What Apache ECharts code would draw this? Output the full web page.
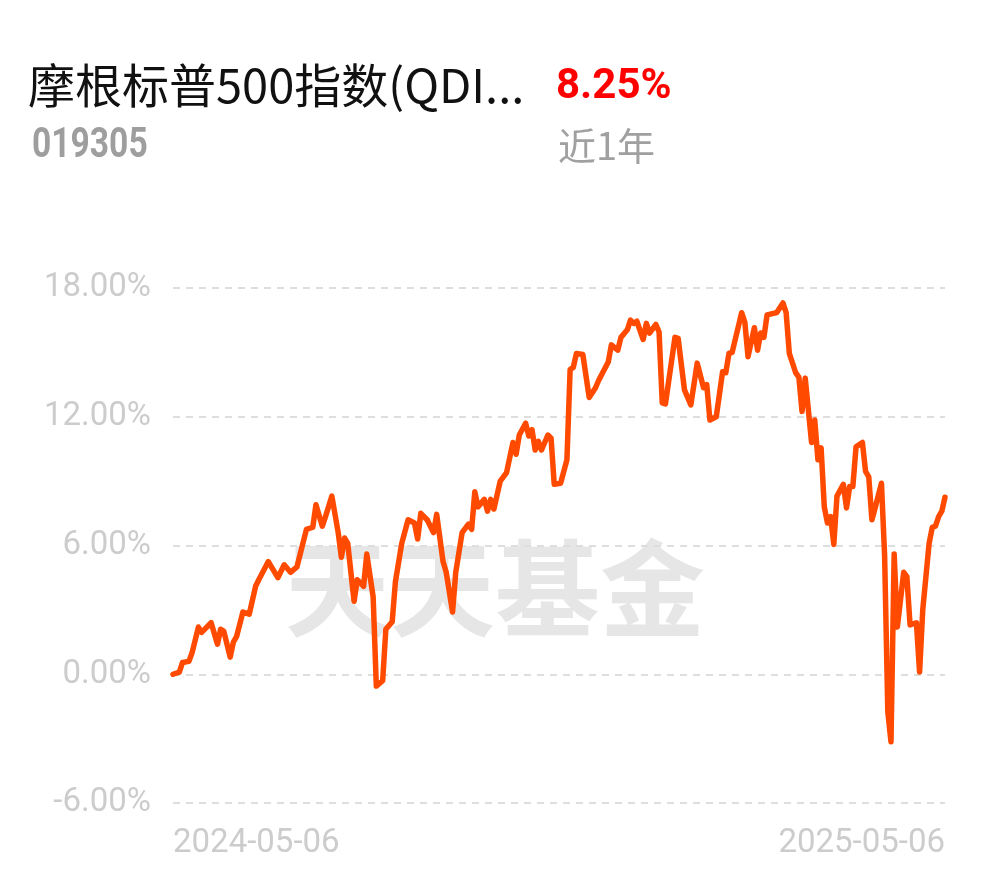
<!DOCTYPE html>
<html>
<head>
<meta charset="utf-8">
<script src="https://cdn.jsdelivr.net/npm/echarts@6/dist/echarts.min.js"></script>
<style>
html,body{margin:0;padding:0;background:#fff;}
#chart{width:990px;height:878px;}
</style>
</head>
<body>
<div id="chart"></div>
<script>
// Trading-day index since 2024-05-06 (approximate)
const days = [0,2,3,5,6,8,9,12,14,15,16,18,19,20,22,24,26,27,30,33,35,37,39,42,44,45,47,48,50,52,53,54,55,57,58,60,61,63,64,66,67,69,70,72,74,76,77,78,80,82,83,85,86,88,89,91,93,94,95,96,98,99,100,101,103,105,107,108,109,111,112,113,114,115,116,118,119,120,122,124,125,126,127,129,131,133,134,137,138,140,141,143,144,145,146,148,149,150,152,153,154,155,158,159,161,163,165,167,168,169,171,173,174,175,176,179,180,181,183,184,185,186,187,190,192,193,194,196,197,198,199,201,202,203,204,205,206,207,208,209,211,212,213,214,215,217,218,219,220,221,223,224,225,226,227,228,230,231,232,234,235,236,238,239,240,241,242,243];
// Cumulative return (%)
const returns = [0,0.1,0.55,0.6,1.0,2.2,1.95,2.4,1.4,2.1,2.0,0.8,1.5,1.75,2.9,2.8,4.1,4.4,5.25,4.5,5.1,4.75,5.0,6.75,6.85,7.9,6.9,7.35,8.3,6.6,5.45,6.35,6.1,3.4,4.4,4.1,5.6,3.6,-0.55,-0.3,2.1,2.45,4.3,6.1,7.2,7.05,6.3,7.5,7.2,6.6,7.45,5.25,4.75,2.9,4.75,6.6,7.0,6.75,8.5,7.8,8.15,7.6,8.15,7.7,9.0,9.4,10.8,10.25,11.15,11.7,11.1,11.4,10.45,10.85,10.45,11.15,11.0,8.85,8.9,10.0,14.2,14.3,14.95,14.9,12.9,13.35,13.7,14.55,15.35,15.1,15.7,16.05,16.5,16.35,16.45,15.6,16.35,15.9,16.3,15.95,12.65,12.6,15.7,15.65,13.25,12.55,14.5,13.35,13.5,11.85,12.0,14.1,14.05,14.95,15.0,16.85,16.4,14.8,16.15,15.1,15.9,15.7,16.75,16.85,17.3,16.85,14.95,14.05,13.85,12.25,13.8,10.8,11.85,10.0,10.55,7.8,7.05,7.35,6.05,8.3,8.85,7.75,8.75,8.75,10.6,10.8,9.45,9.2,7.2,7.75,8.9,5.5,-1.75,-3.15,5.6,2.2,4.75,4.55,2.3,2.4,0.1,3.0,6.1,6.85,6.9,7.35,7.6,8.25];
const xTickLabels = ['2024-05-06','2025-05-06'];
const yTicks = [-6,0,6,12,18];
const fundName = '摩根标普500指数(QDI...';
const fundCode = '019305';
const periodReturn = '8.25%';
const periodLabel = '近1年';

const lastDay = days[days.length-1];
const seriesData = days.map((d,i)=>[d, returns[i]]);

const chart = echarts.init(document.getElementById('chart'), null, {renderer:'canvas'});
chart.setOption({
  animation:false,
  backgroundColor:'#ffffff',
  grid:{left:173,right:45,top:288,bottom:75,containLabel:false},
  xAxis:{
    type:'value', min:0, max:lastDay, interval:lastDay,
    axisLine:{show:false}, axisTick:{show:false}, splitLine:{show:false},
    axisLabel:{
      show:true, margin:24, color:'#cccccc', fontSize:33, fontFamily:'Roboto',
      showMinLabel:true, showMaxLabel:true,
      alignMinLabel:'left', alignMaxLabel:'right',
      formatter:(v)=> v===0 ? xTickLabels[0] : xTickLabels[1]
    }
  },
  yAxis:{
    type:'value', min:yTicks[0], max:yTicks[yTicks.length-1], interval:6,
    axisLine:{show:false}, axisTick:{show:false},
    axisLabel:{margin:22, color:'#cccccc', fontSize:33, fontFamily:'Roboto',
      formatter:(v)=> v.toFixed(2)+'%'},
    splitLine:{show:true, lineStyle:{color:'#dedede', width:2, type:[7,6]}}
  },
  graphic:[
    {type:'text', z:-10, x:495, y:588, style:{text:'天天基金', fill:'#e6e6e6', font:'bold 105px "Noto Sans CJK SC"', align:'center', verticalAlign:'middle'}},
    {type:'text', x:28, y:85, style:{text:fundName, fill:'#111111', font:'47px "Noto Sans CJK SC"', verticalAlign:'middle'}},
    {type:'text', x:556, y:87, style:{text:periodReturn, fill:'#ff0000', font:'bold 42px Roboto', verticalAlign:'middle'}},
    {type:'text', x:32, y:146, scaleX:0.8, style:{text:fundCode, fill:'#9e9e9e', font:'bold 42px Roboto', verticalAlign:'middle'}},
    {type:'text', x:558, y:146, style:{text:periodLabel, fill:'#a0a0a0', font:'38px "Noto Sans CJK SC"', verticalAlign:'middle'}}
  ],
  series:[{
    type:'line', data:seriesData, showSymbol:false, symbol:'none', smooth:false,
    lineStyle:{color:'#ff4a00', width:5.5, join:'round', cap:'round'},
    z:5
  }]
});
</script>
</body>
</html>
